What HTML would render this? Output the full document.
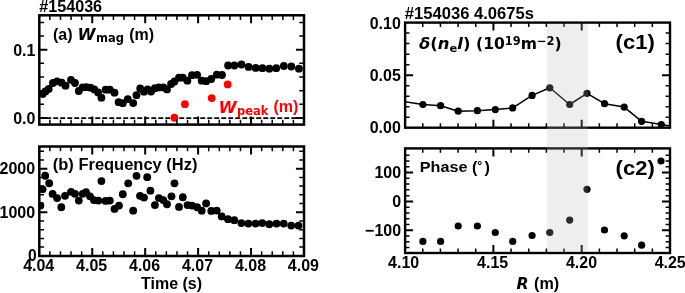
<!DOCTYPE html>
<html lang="en"><head><meta charset="utf-8"><title>#154036</title>
<style>html,body{margin:0;padding:0;background:#fff}svg{display:block}</style></head>
<body>
<svg width="685" height="293" viewBox="0 0 685 293">
<rect width="685" height="293" fill="#fff"/>
<defs>
<clipPath id="ca"><rect x="39.3" y="15.3" width="264.7" height="109.3"/></clipPath>
<clipPath id="cb"><rect x="39.3" y="146.5" width="264.7" height="109.5"/></clipPath>
<clipPath id="cc1"><rect x="405.1" y="22.6" width="264.9" height="105.1"/></clipPath>
<clipPath id="cc2"><rect x="405.1" y="148.4" width="264.9" height="104.6"/></clipPath>
</defs>
<path d="M39.3 118.1H304.0" stroke="#000" stroke-width="1.9" stroke-dasharray="4.9 2.1" fill="none"/>
<g clip-path="url(#ca)" fill="#000">
<circle cx="42.6" cy="94" r="3.9"/>
<circle cx="45.4" cy="91.4" r="3.9"/>
<circle cx="48.7" cy="89" r="3.9"/>
<circle cx="52.9" cy="83" r="3.9"/>
<circle cx="57.1" cy="81.3" r="3.9"/>
<circle cx="61.6" cy="82.7" r="3.9"/>
<circle cx="65.5" cy="85.7" r="3.9"/>
<circle cx="71" cy="79.8" r="3.9"/>
<circle cx="75" cy="83" r="3.9"/>
<circle cx="78.8" cy="91" r="3.9"/>
<circle cx="82.7" cy="87.3" r="3.9"/>
<circle cx="86.4" cy="87.2" r="3.9"/>
<circle cx="90.5" cy="87.7" r="3.9"/>
<circle cx="94.4" cy="89.4" r="3.9"/>
<circle cx="98.1" cy="92.4" r="3.9"/>
<circle cx="101.4" cy="97.7" r="3.9"/>
<circle cx="105.6" cy="89.7" r="3.9"/>
<circle cx="109.8" cy="89.7" r="3.9"/>
<circle cx="114.5" cy="92.7" r="3.9"/>
<circle cx="118.6" cy="102.2" r="3.9"/>
<circle cx="122.8" cy="103.2" r="3.9"/>
<circle cx="127.8" cy="99.1" r="3.9"/>
<circle cx="133.2" cy="103.1" r="3.9"/>
<circle cx="136.5" cy="95.2" r="3.9"/>
<circle cx="140.2" cy="88.4" r="3.9"/>
<circle cx="144" cy="91.7" r="3.9"/>
<circle cx="147.6" cy="89.4" r="3.9"/>
<circle cx="151.1" cy="91.6" r="3.9"/>
<circle cx="154.9" cy="88.2" r="3.9"/>
<circle cx="158.9" cy="87.4" r="3.9"/>
<circle cx="163.3" cy="87.4" r="3.9"/>
<circle cx="167" cy="89.4" r="3.9"/>
<circle cx="171.1" cy="84" r="3.9"/>
<circle cx="174.5" cy="81.5" r="3.9"/>
<circle cx="179" cy="77.7" r="3.9"/>
<circle cx="182.8" cy="77.7" r="3.9"/>
<circle cx="187.4" cy="80.7" r="3.9"/>
<circle cx="192" cy="75.2" r="3.9"/>
<circle cx="197.1" cy="74.8" r="3.9"/>
<circle cx="201.7" cy="80.7" r="3.9"/>
<circle cx="206.3" cy="81.2" r="3.9"/>
<circle cx="211.3" cy="79" r="3.9"/>
<circle cx="216.8" cy="74.7" r="3.9"/>
<circle cx="222" cy="75" r="3.9"/>
<circle cx="228.1" cy="65.5" r="3.9"/>
<circle cx="234.4" cy="65.5" r="3.9"/>
<circle cx="241.5" cy="64.5" r="3.9"/>
<circle cx="248.6" cy="66.9" r="3.9"/>
<circle cx="255.7" cy="67.9" r="3.9"/>
<circle cx="262.4" cy="68.2" r="3.9"/>
<circle cx="269.3" cy="68.7" r="3.9"/>
<circle cx="276.3" cy="68.2" r="3.9"/>
<circle cx="283.8" cy="66" r="3.9"/>
<circle cx="291.3" cy="66.5" r="3.9"/>
<circle cx="298.9" cy="68.7" r="3.9"/>
</g>
<g fill="#f00">
<circle cx="174.4" cy="117.75" r="3.9"/>
<circle cx="184.9" cy="104.15" r="3.9"/>
<circle cx="211.7" cy="98.05" r="3.9"/>
<circle cx="227.7" cy="84.45" r="3.9"/>
</g>
<rect x="39.3" y="15.3" width="264.7" height="109.3" fill="none" stroke="#000" stroke-width="2.5"/>
<path d="M92.24 15.3v8.05M92.24 124.6v-8.05M145.18 15.3v8.05M145.18 124.6v-8.05M198.12 15.3v8.05M198.12 124.6v-8.05M251.06 15.3v8.05M251.06 124.6v-8.05" stroke="#000" stroke-width="2.0" fill="none"/>
<path d="M49.89 15.3v4.75M49.89 124.6v-4.75M60.48 15.3v4.75M60.48 124.6v-4.75M71.06 15.3v4.75M71.06 124.6v-4.75M81.65 15.3v4.75M81.65 124.6v-4.75M102.83 15.3v4.75M102.83 124.6v-4.75M113.42 15.3v4.75M113.42 124.6v-4.75M124 15.3v4.75M124 124.6v-4.75M134.59 15.3v4.75M134.59 124.6v-4.75M155.77 15.3v4.75M155.77 124.6v-4.75M166.36 15.3v4.75M166.36 124.6v-4.75M176.94 15.3v4.75M176.94 124.6v-4.75M187.53 15.3v4.75M187.53 124.6v-4.75M208.71 15.3v4.75M208.71 124.6v-4.75M219.3 15.3v4.75M219.3 124.6v-4.75M229.88 15.3v4.75M229.88 124.6v-4.75M240.47 15.3v4.75M240.47 124.6v-4.75M261.65 15.3v4.75M261.65 124.6v-4.75M272.24 15.3v4.75M272.24 124.6v-4.75M282.82 15.3v4.75M282.82 124.6v-4.75M293.41 15.3v4.75M293.41 124.6v-4.75" stroke="#000" stroke-width="1.5" fill="none"/>
<path d="M39.3 118h8.05M304 118h-8.05M39.3 49.7h8.05M304 49.7h-8.05" stroke="#000" stroke-width="2.0" fill="none"/>
<path d="M39.3 104.34h4.75M304 104.34h-4.75M39.3 90.68h4.75M304 90.68h-4.75M39.3 77.02h4.75M304 77.02h-4.75M39.3 63.36h4.75M304 63.36h-4.75M39.3 36.04h4.75M304 36.04h-4.75M39.3 22.38h4.75M304 22.38h-4.75" stroke="#000" stroke-width="1.5" fill="none"/>
<text x="35.4" y="55.6" font-family='"Liberation Sans", Arial, Helvetica, sans-serif' font-size="16" font-weight="bold" font-style="normal" text-anchor="end" fill="#000">0.1</text>
<text x="35.4" y="123.7" font-family='"Liberation Sans", Arial, Helvetica, sans-serif' font-size="16" font-weight="bold" font-style="normal" text-anchor="end" fill="#000">0.0</text>
<text x="0" y="0" transform="translate(39.2 11.5) scale(1.01 1)" font-family='"Liberation Sans", Arial, Helvetica, sans-serif' font-size="16" font-weight="bold" font-style="normal" text-anchor="start" fill="#000">#154036</text>
<text x="53" y="40" font-family='"Liberation Sans", Arial, Helvetica, sans-serif' font-size="16" font-weight="bold" font-style="normal" text-anchor="start" fill="#000">(a)</text>
<text x="0" y="0" transform="translate(77.4 39.7) scale(1.04 1)" font-family='"DejaVu Sans", "Liberation Sans", sans-serif' font-size="15.7" font-weight="bold" font-style="italic" text-anchor="start" fill="#000">W</text>
<text x="0" y="0" transform="translate(96 42.4) scale(0.915 1)" font-family='"DejaVu Sans", "Liberation Sans", sans-serif' font-size="12.6" font-weight="bold" font-style="normal" text-anchor="start" fill="#000">mag</text>
<text x="129.2" y="40" font-family='"Liberation Sans", Arial, Helvetica, sans-serif' font-size="16" font-weight="bold" font-style="normal" text-anchor="start" fill="#000">(m)</text>
<text x="0" y="0" transform="translate(218.4 112.5) scale(1.04 1)" font-family='"DejaVu Sans", "Liberation Sans", sans-serif' font-size="15.9" font-weight="bold" font-style="italic" text-anchor="start" fill="#f00">W</text>
<text x="0" y="0" transform="translate(237 115.3) scale(0.92 1)" font-family='"DejaVu Sans", "Liberation Sans", sans-serif' font-size="12.5" font-weight="bold" font-style="normal" text-anchor="start" fill="#f00">peak</text>
<text x="273.4" y="112.4" font-family='"Liberation Sans", Arial, Helvetica, sans-serif' font-size="16" font-weight="bold" font-style="normal" text-anchor="start" fill="#f00">(m)</text>
<g clip-path="url(#cb)" fill="#000">
<circle cx="40.4" cy="205.55" r="3.9"/>
<circle cx="45.2" cy="175.75" r="3.9"/>
<circle cx="49.2" cy="183.25" r="3.9"/>
<circle cx="42.6" cy="189.35" r="3.9"/>
<circle cx="52.6" cy="193.95" r="3.9"/>
<circle cx="57.1" cy="198.05" r="3.9"/>
<circle cx="61.3" cy="207.25" r="3.9"/>
<circle cx="65" cy="195.85" r="3.9"/>
<circle cx="71" cy="191.85" r="3.9"/>
<circle cx="75" cy="193.85" r="3.9"/>
<circle cx="78.8" cy="200.55" r="3.9"/>
<circle cx="82.7" cy="193.85" r="3.9"/>
<circle cx="86" cy="192.25" r="3.9"/>
<circle cx="90" cy="196.35" r="3.9"/>
<circle cx="93.9" cy="200.05" r="3.9"/>
<circle cx="98.4" cy="200.55" r="3.9"/>
<circle cx="101.4" cy="181.05" r="3.9"/>
<circle cx="105.6" cy="200.95" r="3.9"/>
<circle cx="109.8" cy="200.55" r="3.9"/>
<circle cx="114.5" cy="208.95" r="3.9"/>
<circle cx="119" cy="205.55" r="3.9"/>
<circle cx="122.8" cy="194.25" r="3.9"/>
<circle cx="128.2" cy="183.35" r="3.9"/>
<circle cx="133.2" cy="210.65" r="3.9"/>
<circle cx="136.5" cy="175.85" r="3.9"/>
<circle cx="140" cy="195.85" r="3.9"/>
<circle cx="144" cy="197.55" r="3.9"/>
<circle cx="147.2" cy="177.15" r="3.9"/>
<circle cx="150.4" cy="190.65" r="3.9"/>
<circle cx="154.9" cy="205.05" r="3.9"/>
<circle cx="158.9" cy="198.05" r="3.9"/>
<circle cx="163.3" cy="200.05" r="3.9"/>
<circle cx="167" cy="204.25" r="3.9"/>
<circle cx="171.5" cy="196.35" r="3.9"/>
<circle cx="174.5" cy="183.35" r="3.9"/>
<circle cx="179" cy="206.95" r="3.9"/>
<circle cx="182.8" cy="197.25" r="3.9"/>
<circle cx="187.5" cy="205.05" r="3.9"/>
<circle cx="192" cy="205.55" r="3.9"/>
<circle cx="197.1" cy="207.25" r="3.9"/>
<circle cx="201.7" cy="210.65" r="3.9"/>
<circle cx="206.1" cy="203.45" r="3.9"/>
<circle cx="211.3" cy="210.95" r="3.9"/>
<circle cx="216.7" cy="210.55" r="3.9"/>
<circle cx="221.7" cy="216.45" r="3.9"/>
<circle cx="228" cy="219.15" r="3.9"/>
<circle cx="234.3" cy="220.15" r="3.9"/>
<circle cx="241.4" cy="223.05" r="3.9"/>
<circle cx="248.4" cy="223.55" r="3.9"/>
<circle cx="255.6" cy="223.55" r="3.9"/>
<circle cx="262.3" cy="223.05" r="3.9"/>
<circle cx="269.3" cy="224.25" r="3.9"/>
<circle cx="276.5" cy="223.55" r="3.9"/>
<circle cx="283.7" cy="223.55" r="3.9"/>
<circle cx="291.2" cy="225.55" r="3.9"/>
<circle cx="298.5" cy="225.55" r="3.9"/>
</g>
<rect x="39.3" y="146.5" width="264.7" height="109.5" fill="none" stroke="#000" stroke-width="2.5"/>
<path d="M92.24 146.5v8.05M92.24 256v-8.05M145.18 146.5v8.05M145.18 256v-8.05M198.12 146.5v8.05M198.12 256v-8.05M251.06 146.5v8.05M251.06 256v-8.05" stroke="#000" stroke-width="2.0" fill="none"/>
<path d="M49.89 146.5v4.75M49.89 256v-4.75M60.48 146.5v4.75M60.48 256v-4.75M71.06 146.5v4.75M71.06 256v-4.75M81.65 146.5v4.75M81.65 256v-4.75M102.83 146.5v4.75M102.83 256v-4.75M113.42 146.5v4.75M113.42 256v-4.75M124 146.5v4.75M124 256v-4.75M134.59 146.5v4.75M134.59 256v-4.75M155.77 146.5v4.75M155.77 256v-4.75M166.36 146.5v4.75M166.36 256v-4.75M176.94 146.5v4.75M176.94 256v-4.75M187.53 146.5v4.75M187.53 256v-4.75M208.71 146.5v4.75M208.71 256v-4.75M219.3 146.5v4.75M219.3 256v-4.75M229.88 146.5v4.75M229.88 256v-4.75M240.47 146.5v4.75M240.47 256v-4.75M261.65 146.5v4.75M261.65 256v-4.75M272.24 146.5v4.75M272.24 256v-4.75M282.82 146.5v4.75M282.82 256v-4.75M293.41 146.5v4.75M293.41 256v-4.75" stroke="#000" stroke-width="1.5" fill="none"/>
<path d="M39.3 212.25h8.05M304 212.25h-8.05M39.3 168.7h8.05M304 168.7h-8.05" stroke="#000" stroke-width="2.0" fill="none"/>
<path d="M39.3 247.09h4.75M304 247.09h-4.75M39.3 238.38h4.75M304 238.38h-4.75M39.3 229.67h4.75M304 229.67h-4.75M39.3 220.96h4.75M304 220.96h-4.75M39.3 203.54h4.75M304 203.54h-4.75M39.3 194.83h4.75M304 194.83h-4.75M39.3 186.12h4.75M304 186.12h-4.75M39.3 177.41h4.75M304 177.41h-4.75M39.3 159.99h4.75M304 159.99h-4.75M39.3 151.28h4.75M304 151.28h-4.75" stroke="#000" stroke-width="1.5" fill="none"/>
<text x="35.1" y="174.1" font-family='"Liberation Sans", Arial, Helvetica, sans-serif' font-size="16" font-weight="bold" font-style="normal" text-anchor="end" fill="#000">2000</text>
<text x="35.1" y="217.65" font-family='"Liberation Sans", Arial, Helvetica, sans-serif' font-size="16" font-weight="bold" font-style="normal" text-anchor="end" fill="#000">1000</text>
<text x="36.7" y="261.4" font-family='"Liberation Sans", Arial, Helvetica, sans-serif' font-size="15.6" font-weight="bold" font-style="normal" text-anchor="end" fill="#000">0</text>
<text x="0" y="0" transform="translate(38.7 270.8) scale(1.02 1)" font-family='"Liberation Sans", Arial, Helvetica, sans-serif' font-size="15.7" font-weight="bold" font-style="normal" text-anchor="middle" fill="#000">4.04</text>
<text x="0" y="0" transform="translate(91.64 270.8) scale(1.02 1)" font-family='"Liberation Sans", Arial, Helvetica, sans-serif' font-size="15.7" font-weight="bold" font-style="normal" text-anchor="middle" fill="#000">4.05</text>
<text x="0" y="0" transform="translate(144.58 270.8) scale(1.02 1)" font-family='"Liberation Sans", Arial, Helvetica, sans-serif' font-size="15.7" font-weight="bold" font-style="normal" text-anchor="middle" fill="#000">4.06</text>
<text x="0" y="0" transform="translate(197.52 270.8) scale(1.02 1)" font-family='"Liberation Sans", Arial, Helvetica, sans-serif' font-size="15.7" font-weight="bold" font-style="normal" text-anchor="middle" fill="#000">4.07</text>
<text x="0" y="0" transform="translate(250.46 270.8) scale(1.02 1)" font-family='"Liberation Sans", Arial, Helvetica, sans-serif' font-size="15.7" font-weight="bold" font-style="normal" text-anchor="middle" fill="#000">4.08</text>
<text x="0" y="0" transform="translate(303.4 270.8) scale(1.02 1)" font-family='"Liberation Sans", Arial, Helvetica, sans-serif' font-size="15.7" font-weight="bold" font-style="normal" text-anchor="middle" fill="#000">4.09</text>
<text x="0" y="0" transform="translate(171.55 289.1) scale(1.02 1)" font-family='"Liberation Sans", Arial, Helvetica, sans-serif' font-size="15.7" font-weight="bold" font-style="normal" text-anchor="middle" fill="#000">Time (s)</text>
<text x="0" y="0" transform="translate(52.8 169.6) scale(1.03 1)" font-family='"Liberation Sans", Arial, Helvetica, sans-serif' font-size="16" font-weight="bold" font-style="normal" text-anchor="start" fill="#000">(b) Frequency (Hz)</text>
<g clip-path="url(#cc1)">
<polyline points="387.7,98.9 422.9,104.5 440.6,105.7 458.2,111.2 477.4,110.7 495.3,109.6 512.7,107.9 532.1,95.4 549.8,87.8 569.7,104.5 587,93.3 604.5,103.7 624.2,107.1 641.6,121.3 661.3,124.6 681,127.9" fill="none" stroke="#000" stroke-width="1.5" stroke-linejoin="round"/>
<circle cx="422.9" cy="104.5" r="3.6" fill="#000"/>
<circle cx="440.6" cy="105.7" r="3.6" fill="#000"/>
<circle cx="458.2" cy="111.2" r="3.6" fill="#000"/>
<circle cx="477.4" cy="110.7" r="3.6" fill="#000"/>
<circle cx="495.3" cy="109.6" r="3.6" fill="#000"/>
<circle cx="512.7" cy="107.9" r="3.6" fill="#000"/>
<circle cx="532.1" cy="95.4" r="3.6" fill="#000"/>
<circle cx="549.8" cy="87.8" r="3.6" fill="#000"/>
<circle cx="569.7" cy="104.5" r="3.6" fill="#000"/>
<circle cx="587" cy="93.3" r="3.6" fill="#000"/>
<circle cx="604.5" cy="103.7" r="3.6" fill="#000"/>
<circle cx="624.2" cy="107.1" r="3.6" fill="#000"/>
<circle cx="641.6" cy="121.3" r="3.6" fill="#000"/>
<circle cx="661.3" cy="124.6" r="3.6" fill="#000"/>
</g>
<g clip-path="url(#cc2)" fill="#000">
<circle cx="422.9" cy="241.4" r="3.6"/>
<circle cx="440.6" cy="241.4" r="3.6"/>
<circle cx="458.2" cy="226" r="3.6"/>
<circle cx="477.4" cy="226" r="3.6"/>
<circle cx="495.3" cy="232.5" r="3.6"/>
<circle cx="512.7" cy="241.4" r="3.6"/>
<circle cx="532.1" cy="235.5" r="3.6"/>
<circle cx="549.8" cy="232.5" r="3.6"/>
<circle cx="569.7" cy="220.1" r="3.6"/>
<circle cx="587" cy="189.3" r="3.6"/>
<circle cx="604.5" cy="230" r="3.6"/>
<circle cx="624.2" cy="235.8" r="3.6"/>
<circle cx="641.6" cy="245.2" r="3.6"/>
<circle cx="661.0" cy="161" r="3.6"/>
</g>
<rect x="405.1" y="22.6" width="264.9" height="105.1" fill="none" stroke="#000" stroke-width="2.4"/>
<rect x="405.1" y="148.4" width="264.9" height="104.6" fill="none" stroke="#000" stroke-width="2.4"/>
<path d="M493.4 22.6v8M493.4 127.7v-8M581.7 22.6v8M581.7 127.7v-8" stroke="#000" stroke-width="2.0" fill="none"/>
<path d="M422.76 22.6v4.4M422.76 127.7v-4.4M440.42 22.6v4.4M440.42 127.7v-4.4M458.08 22.6v4.4M458.08 127.7v-4.4M475.74 22.6v4.4M475.74 127.7v-4.4M511.06 22.6v4.4M511.06 127.7v-4.4M528.72 22.6v4.4M528.72 127.7v-4.4M546.38 22.6v4.4M546.38 127.7v-4.4M564.04 22.6v4.4M564.04 127.7v-4.4M599.36 22.6v4.4M599.36 127.7v-4.4M617.02 22.6v4.4M617.02 127.7v-4.4M634.68 22.6v4.4M634.68 127.7v-4.4M652.34 22.6v4.4M652.34 127.7v-4.4" stroke="#000" stroke-width="1.5" fill="none"/>
<path d="M493.4 148.4v8M493.4 253v-8M581.7 148.4v8M581.7 253v-8" stroke="#000" stroke-width="2.0" fill="none"/>
<path d="M422.76 148.4v4.4M422.76 253v-4.4M440.42 148.4v4.4M440.42 253v-4.4M458.08 148.4v4.4M458.08 253v-4.4M475.74 148.4v4.4M475.74 253v-4.4M511.06 148.4v4.4M511.06 253v-4.4M528.72 148.4v4.4M528.72 253v-4.4M546.38 148.4v4.4M546.38 253v-4.4M564.04 148.4v4.4M564.04 253v-4.4M599.36 148.4v4.4M599.36 253v-4.4M617.02 148.4v4.4M617.02 253v-4.4M634.68 148.4v4.4M634.68 253v-4.4M652.34 148.4v4.4M652.34 253v-4.4" stroke="#000" stroke-width="1.5" fill="none"/>
<path d="M405.1 75.15h8M670 75.15h-8" stroke="#000" stroke-width="2.0" fill="none"/>
<path d="M405.1 117.19h4.4M670 117.19h-4.4M405.1 106.68h4.4M670 106.68h-4.4M405.1 96.17h4.4M670 96.17h-4.4M405.1 85.66h4.4M670 85.66h-4.4M405.1 64.64h4.4M670 64.64h-4.4M405.1 54.13h4.4M670 54.13h-4.4M405.1 43.62h4.4M670 43.62h-4.4M405.1 33.11h4.4M670 33.11h-4.4" stroke="#000" stroke-width="1.5" fill="none"/>
<path d="M405.1 230.25h8M670 230.25h-8M405.1 201.4h8M670 201.4h-8M405.1 172.55h8M670 172.55h-8" stroke="#000" stroke-width="2.0" fill="none"/>
<path d="M405.1 247.56h4.4M670 247.56h-4.4M405.1 241.79h4.4M670 241.79h-4.4M405.1 236.02h4.4M670 236.02h-4.4M405.1 224.48h4.4M670 224.48h-4.4M405.1 218.71h4.4M670 218.71h-4.4M405.1 212.94h4.4M670 212.94h-4.4M405.1 207.17h4.4M670 207.17h-4.4M405.1 195.63h4.4M670 195.63h-4.4M405.1 189.86h4.4M670 189.86h-4.4M405.1 184.09h4.4M670 184.09h-4.4M405.1 178.32h4.4M670 178.32h-4.4M405.1 166.78h4.4M670 166.78h-4.4M405.1 161.01h4.4M670 161.01h-4.4M405.1 155.24h4.4M670 155.24h-4.4" stroke="#000" stroke-width="1.5" fill="none"/>
<rect x="546.8" y="23.8" width="41.3" height="228" fill="#b4b4b4" fill-opacity="0.23"/>
<text x="0" y="0" transform="translate(400.8 28.5) scale(0.975 1)" font-family='"Liberation Sans", Arial, Helvetica, sans-serif' font-size="16.4" font-weight="bold" font-style="normal" text-anchor="end" fill="#000">0.10</text>
<text x="0" y="0" transform="translate(400.8 80.95) scale(0.975 1)" font-family='"Liberation Sans", Arial, Helvetica, sans-serif' font-size="16.4" font-weight="bold" font-style="normal" text-anchor="end" fill="#000">0.05</text>
<text x="0" y="0" transform="translate(400.8 133.1) scale(0.975 1)" font-family='"Liberation Sans", Arial, Helvetica, sans-serif' font-size="16.4" font-weight="bold" font-style="normal" text-anchor="end" fill="#000">0.00</text>
<text x="0" y="0" transform="translate(401.1 178.35) scale(0.975 1)" font-family='"Liberation Sans", Arial, Helvetica, sans-serif' font-size="16.4" font-weight="bold" font-style="normal" text-anchor="end" fill="#000">100</text>
<text x="0" y="0" transform="translate(401.1 207.2) scale(0.975 1)" font-family='"Liberation Sans", Arial, Helvetica, sans-serif' font-size="16.4" font-weight="bold" font-style="normal" text-anchor="end" fill="#000">0</text>
<text x="0" y="0" transform="translate(401.1 236.05) scale(0.975 1)" font-family='"Liberation Sans", Arial, Helvetica, sans-serif' font-size="16.4" font-weight="bold" font-style="normal" text-anchor="end" fill="#000">−100</text>
<text x="0" y="0" transform="translate(403.6 268) scale(0.975 1)" font-family='"Liberation Sans", Arial, Helvetica, sans-serif' font-size="16.4" font-weight="bold" font-style="normal" text-anchor="middle" fill="#000">4.10</text>
<text x="0" y="0" transform="translate(492.6 268) scale(0.975 1)" font-family='"Liberation Sans", Arial, Helvetica, sans-serif' font-size="16.4" font-weight="bold" font-style="normal" text-anchor="middle" fill="#000">4.15</text>
<text x="0" y="0" transform="translate(581.5 268) scale(0.975 1)" font-family='"Liberation Sans", Arial, Helvetica, sans-serif' font-size="16.4" font-weight="bold" font-style="normal" text-anchor="middle" fill="#000">4.20</text>
<text x="0" y="0" transform="translate(670.2 268) scale(0.975 1)" font-family='"Liberation Sans", Arial, Helvetica, sans-serif' font-size="16.4" font-weight="bold" font-style="normal" text-anchor="middle" fill="#000">4.25</text>
<text x="0" y="0" transform="translate(516.5 289.1) scale(1.02 1)" font-family='"DejaVu Sans", "Liberation Sans", sans-serif' font-size="15.3" font-weight="bold" font-style="italic" text-anchor="start" fill="#000">R</text>
<text x="0" y="0" transform="translate(534 289.2) scale(1.03 1)" font-family='"Liberation Sans", Arial, Helvetica, sans-serif' font-size="15.7" font-weight="bold" font-style="normal" text-anchor="start" fill="#000">(m)</text>
<text x="404.8" y="19.4" font-family='"Liberation Sans", Arial, Helvetica, sans-serif' font-size="16.6" font-weight="bold" font-style="normal" text-anchor="start" fill="#000">#154036 4.0675s</text>
<text x="0" y="0" transform="translate(615.6 48.7) scale(1.075 1)" font-family='"Liberation Sans", Arial, Helvetica, sans-serif' font-size="20.5" font-weight="bold" font-style="normal" text-anchor="start" fill="#000">(c1)</text>
<text x="0" y="0" transform="translate(615.6 174.8) scale(1.075 1)" font-family='"Liberation Sans", Arial, Helvetica, sans-serif' font-size="20.5" font-weight="bold" font-style="normal" text-anchor="start" fill="#000">(c2)</text>
<text x="0" y="0" transform="translate(419.8 172) scale(1.08 1)" font-family='"Liberation Sans", Arial, Helvetica, sans-serif' font-size="15" font-weight="bold" font-style="normal" text-anchor="start" fill="#000">Phase</text>
<text x="471.9" y="172.6" font-family='"Liberation Sans", Arial, Helvetica, sans-serif' font-size="16.2" font-weight="bold" font-style="normal" text-anchor="start" fill="#000">(</text>
<text x="0" y="0" transform="translate(477.5 172.6) scale(1.1 1)" font-family='"Liberation Sans", Arial, Helvetica, sans-serif' font-size="14" font-weight="bold" font-style="normal" text-anchor="start" fill="#000">˚</text>
<text x="484.6" y="172.6" font-family='"Liberation Sans", Arial, Helvetica, sans-serif' font-size="16.2" font-weight="bold" font-style="normal" text-anchor="start" fill="#000">)</text>
<text x="0" y="0" transform="translate(419.0 48.9) scale(1.055 1)" font-family='"DejaVu Sans", "Liberation Sans", sans-serif' font-size="15.6" font-weight="bold" fill="#000"><tspan font-style="italic">δ</tspan>(<tspan font-style="italic">n</tspan><tspan font-size="10.9" dy="3.2">e</tspan><tspan font-style="italic" dy="-3.2">l</tspan>)</text>
<text x="0" y="0" transform="translate(476.0 48.9) scale(1.0 1)" font-family='"DejaVu Sans", "Liberation Sans", sans-serif' font-size="15.6" font-weight="bold" fill="#000">(10<tspan font-size="11.4" dy="-4.3">19</tspan><tspan dy="4.3">m</tspan><tspan font-size="11.4" dy="-4.3">−2</tspan><tspan dy="4.3">)</tspan></text>
</svg>
</body></html>
